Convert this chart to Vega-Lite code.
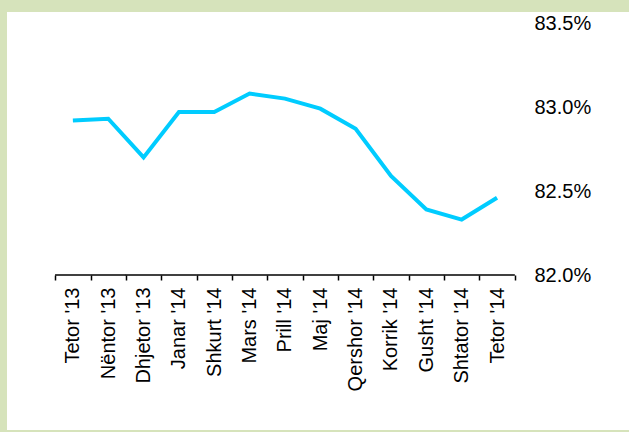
{
  "$schema": "https://vega.github.io/schema/vega-lite/v6.json",
  "width": 622,
  "height": 418,
  "autosize": {"type": "none"},
  "padding": {"left": 7, "top": 12, "right": 0, "bottom": 2},
  "background": "#d6e3bb",
  "config": {
    "view": {"fill": "white", "stroke": null},
    "font": "Liberation Sans",
    "axis": {"title": null, "grid": false}
  },
  "data": {
    "values": [
      {"m": "Tetor '13", "v": 0.8292},
      {"m": "Nëntor '13", "v": 0.8293},
      {"m": "Dhjetor '13", "v": 0.8270},
      {"m": "Janar '14", "v": 0.8297},
      {"m": "Shkurt '14", "v": 0.8297},
      {"m": "Mars '14", "v": 0.8308},
      {"m": "Prill '14", "v": 0.8305},
      {"m": "Maj '14", "v": 0.8299},
      {"m": "Qershor '14", "v": 0.8287},
      {"m": "Korrik '14", "v": 0.8259},
      {"m": "Gusht '14", "v": 0.8239},
      {"m": "Shtator '14", "v": 0.8233},
      {"m": "Tetor '14", "v": 0.8246}
    ]
  },
  "encoding": {
    "x": {
      "field": "m",
      "type": "ordinal",
      "sort": null,
      "bandPosition": 0.5,
      "scale": {"type": "band", "paddingInner": 0, "paddingOuter": 0, "range": [48.2, 507.7]},
      "axis": {
        "orient": "bottom",
        "offset": -155,
        "domain": false,
        "ticks": true,
        "tickBand": "extent",
        "tickSize": 5,
        "tickWidth": 1.5,
        "tickColor": "#000000",
        "labelAngle": 270,
        "labelFontSize": 20,
        "labelFont": "Liberation Sans",
        "labelColor": "#000000",
        "labelPadding": 7
      }
    }
  },
  "layer": [
    {
      "mark": {"type": "tick", "orient": "horizontal", "size": 35.6, "thickness": 1.6, "color": "#000000", "opacity": 1},
      "encoding": {
        "y": {"datum": 0.82, "type": "quantitative"}
      }
    },
    {
      "mark": {"type": "line", "color": "#00ccff", "strokeWidth": 4},
      "encoding": {
        "y": {
          "field": "v",
          "type": "quantitative",
          "scale": {"domain": [0.810774, 0.835655], "nice": false, "zero": false},
          "axis": {
            "orient": "right",
            "offset": -95,
            "values": [0.82, 0.825, 0.83, 0.835],
            "format": ".1%",
            "domain": false,
            "ticks": false,
            "tickSize": 0,
            "labelPadding": 0,
            "labelFontSize": 20,
            "labelFont": "Liberation Sans",
            "labelColor": "#000000",
            "labelAlign": "left"
          }
        }
      }
    }
  ]
}
